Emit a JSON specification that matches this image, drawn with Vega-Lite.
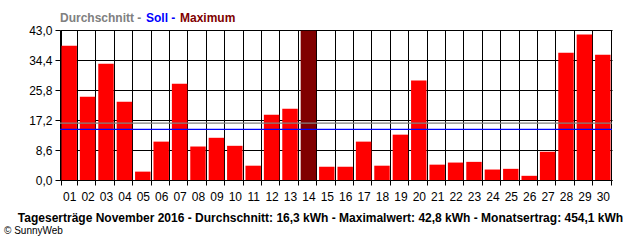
{
  "$schema": "https://vega.github.io/schema/vega-lite/v6.json",
  "autosize": "none",
  "width": 552,
  "height": 150,
  "padding": {"left": 60, "top": 30, "right": 28, "bottom": 60},
  "background": "white",
  "config": {
    "font": "Liberation Sans",
    "view": {"stroke": null},
    "axis": {"labelFont": "Liberation Sans", "labelColor": "black", "labelFontSize": 12, "gridColor": "black", "gridOpacity": 1, "domainColor": "black", "tickColor": "black", "tickSize": 5}
  },
  "datasets": {
    "days": [
      {"tag": "01", "kwh": 38.5}, {"tag": "02", "kwh": 23.9}, {"tag": "03", "kwh": 33.3},
      {"tag": "04", "kwh": 22.4}, {"tag": "05", "kwh": 2.4}, {"tag": "06", "kwh": 11.0},
      {"tag": "07", "kwh": 27.6}, {"tag": "08", "kwh": 9.6}, {"tag": "09", "kwh": 12.1},
      {"tag": "10", "kwh": 9.8}, {"tag": "11", "kwh": 4.1}, {"tag": "12", "kwh": 18.7},
      {"tag": "13", "kwh": 20.4}, {"tag": "14", "kwh": 42.8}, {"tag": "15", "kwh": 3.8},
      {"tag": "16", "kwh": 3.8}, {"tag": "17", "kwh": 11.0}, {"tag": "18", "kwh": 4.1},
      {"tag": "19", "kwh": 13.0}, {"tag": "20", "kwh": 28.5}, {"tag": "21", "kwh": 4.4},
      {"tag": "22", "kwh": 5.0}, {"tag": "23", "kwh": 5.2}, {"tag": "24", "kwh": 3.0},
      {"tag": "25", "kwh": 3.2}, {"tag": "26", "kwh": 1.2}, {"tag": "27", "kwh": 8.1},
      {"tag": "28", "kwh": 36.5}, {"tag": "29", "kwh": 41.7}, {"tag": "30", "kwh": 35.9}
    ],
    "refs": [
      {"serie": "Durchschnitt", "wert": 16.3},
      {"serie": "Soll", "wert": 14.5}
    ]
  },
  "title": {
    "text": "© SunnyWeb",
    "orient": "bottom",
    "anchor": "start",
    "frame": "group",
    "font": "Liberation Sans",
    "fontSize": 10,
    "fontWeight": "normal",
    "color": "black",
    "offset": 3,
    "dx": -56
  },
  "layer": [
    {
      "data": {"name": "days"},
      "mark": {"type": "bar"},
      "encoding": {
        "x": {
          "field": "tag", "type": "ordinal",
          "scale": {"paddingInner": 0.16, "paddingOuter": 0.08},
          "axis": {
            "title": "Tageserträge November 2016 - Durchschnitt: 16,3 kWh - Maximalwert: 42,8 kWh - Monatsertrag: 454,1 kWh",
            "titleFont": "Liberation Sans", "titleFontSize": 12, "titleFontWeight": "bold", "titleColor": "black",
            "titlePadding": 10, "titleX": 260,
            "labelAngle": 0, "labelPadding": 6,
            "tickBand": "extent", "grid": true, "domain": true
          }
        },
        "y": {
          "field": "kwh", "type": "quantitative",
          "scale": {"domain": [0, 43], "nice": false},
          "axis": {
            "title": null, "values": [0, 8.6, 17.2, 25.8, 34.4, 43], "tickCount": 12,
            "labelExpr": "replace(format(datum.value, '.1f'), '.', ',')",
            "labelPadding": 3, "grid": true
          }
        },
        "color": {
          "condition": {"test": "datum.kwh >= 42.8", "value": "#800000"},
          "value": "#ff0000"
        }
      }
    },
    {
      "data": {"name": "refs"},
      "mark": {"type": "rule", "strokeWidth": 1.2},
      "encoding": {
        "y": {"field": "wert", "type": "quantitative"},
        "color": {
          "field": "serie", "type": "nominal",
          "scale": {"domain": ["Durchschnitt", "Soll", "Maximum"], "range": ["#808080", "#0000ff", "#800000"]},
          "legend": {
            "title": null, "orient": "top", "direction": "horizontal",
            "symbolType": "circle", "symbolSize": 0, "symbolOpacity": 0, "symbolStrokeWidth": 0,
            "labelOffset": -12, "columnPadding": 4, "offset": 6, "padding": 0,
            "gridAlign": "none",
            "labelFont": "Liberation Sans", "labelFontSize": 12, "labelFontWeight": "bold",
            "labelExpr": "datum.label == 'Maximum' ? datum.label : datum.label + ' -'",
            "encode": {
              "labels": {
                "update": {
                  "fill": [
                    {"test": "datum.value === 'Soll'", "value": "#0000ff"},
                    {"test": "datum.value === 'Maximum'", "value": "#800000"},
                    {"value": "#808080"}
                  ]
                }
              }
            }
          }
        }
      }
    }
  ]
}
